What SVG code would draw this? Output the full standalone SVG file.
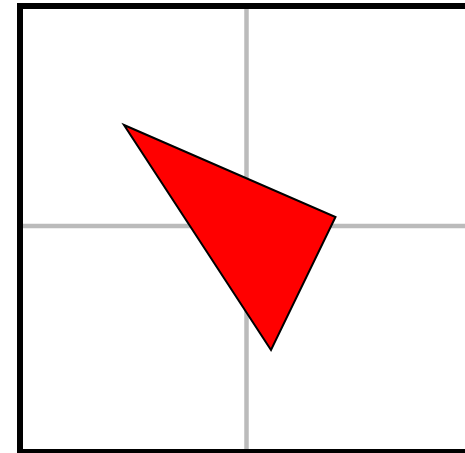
<svg xmlns="http://www.w3.org/2000/svg" width="465" height="453" viewBox="0 0 465 453">
<style>
.grid{stroke:#bbbbbb;stroke-width:4.5;fill:none}
.frame{stroke:#000;stroke-width:6;fill:none}
.tri{fill:#ff0000;stroke:#000;stroke-width:2;stroke-linejoin:miter}
</style>
<rect width="465" height="453" fill="#fff"/>
<g id="grid">
<line class="grid" x1="246.5" y1="6" x2="246.5" y2="452"/>
<line class="grid" x1="20" y1="226" x2="470" y2="226"/>
</g>
<g id="frame">
<path class="frame" d="M470 6 H20 V452 H470"/>
</g>
<g id="triangle">
<polygon class="tri" points="124,125 335.5,217 271,350"/>
</g>
</svg>
